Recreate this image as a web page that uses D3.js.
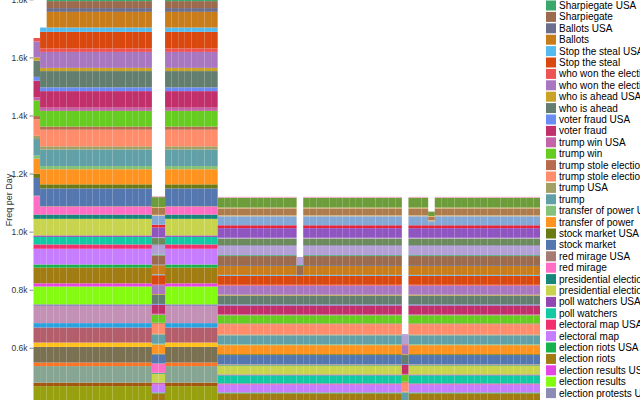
<!DOCTYPE html>
<html><head><meta charset="utf-8">
<script src="https://cdn.jsdelivr.net/npm/d3@7"></script>
<style>html,body{margin:0;padding:0;background:#fff;overflow:hidden}svg{display:block;font-family:"Liberation Sans",Arial,Helvetica,sans-serif}</style>
</head><body><svg id="chart" width="640" height="400"></svg>
<script>
// ---- data ----
const days = [
"2020-10-19","2020-10-20","2020-10-21","2020-10-22","2020-10-23","2020-10-24","2020-10-25","2020-10-26","2020-10-27","2020-10-28","2020-10-29","2020-10-30","2020-10-31",
"2020-11-01","2020-11-02","2020-11-03","2020-11-04","2020-11-05","2020-11-06","2020-11-07","2020-11-08","2020-11-09","2020-11-10","2020-11-11","2020-11-12","2020-11-13","2020-11-14","2020-11-15",
"2020-11-16","2020-11-17","2020-11-18","2020-11-19","2020-11-20","2020-11-21","2020-11-22","2020-11-23","2020-11-24","2020-11-25","2020-11-26","2020-11-27","2020-11-28","2020-11-29","2020-11-30",
"2020-12-01","2020-12-02","2020-12-03","2020-12-04","2020-12-05","2020-12-06","2020-12-07","2020-12-08","2020-12-09","2020-12-10","2020-12-11","2020-12-12","2020-12-13","2020-12-14","2020-12-15",
"2020-12-16","2020-12-17","2020-12-18","2020-12-19","2020-12-20","2020-12-21","2020-12-22","2020-12-23","2020-12-24","2020-12-25","2020-12-26","2020-12-27","2020-12-28","2020-12-29","2020-12-30","2020-12-31",
"2021-01-01","2021-01-02","2021-01-03"];

// legend order (top of the stack first)
const seriesNames = [
"Pennsylvania USA","Pennsylvania","Nevada USA","Nevada","Georgia USA","Georgia","Arizona USA","Arizona","Michigan USA","Michigan","Wisconsin USA","Wisconsin",
"Sharpiegate USA","Sharpiegate","Ballots USA","Ballots","Stop the steal USA","Stop the steal",
"who won the election USA","who won the election","who is ahead USA","who is ahead","voter fraud USA","voter fraud",
"trump win USA","trump win","trump stole election USA","trump stole election","trump USA","trump",
"transfer of power USA","transfer of power","stock market USA","stock market","red mirage USA","red mirage",
"presidential election USA","presidential election","poll watchers USA","poll watchers","electoral map USA","electoral map",
"election riots USA","election riots","election results USA","election results","election protests USA","election protests",
"election night USA","election night","election map USA","election map","election fraud USA","election fraud","election day USA","election day",
"count the votes USA","count the votes","biden win USA","biden win","biden USA","biden","ballot count USA","ballot count","absentee ballot USA","absentee ballot","Biden Harris USA","Biden Harris"];

const seriesColors = [
"#f4a6c9","#6d9c3b","#d8b26a","#ae7c4c","#e6c07a","#84a8d6","#e3243a","#8f55c1","#b9a0c8","#6b8b5d","#8e6fc2","#b3a1d6",
"#3aa86b","#9c6b4e","#6b6e8c","#c97d1a","#55bbee","#d9480f",
"#ee5353","#a877c0","#c9a227","#637e6e","#6b8cf5","#c2306c",
"#c563a8","#66cc22","#b86a4e","#ff8c6b","#a3a065","#62a0a8",
"#84c27a","#ff9320","#6b7a12","#5577b0","#a57c74","#ff6ec4",
"#17877a","#c8d44e","#9346b3","#12c9a4","#f2306e","#c77dff",
"#17b24c","#a17c13","#e545e5","#84fc12","#8c8cb4","#c391b5",
"#27a3e0","#b35e6a","#ffc21a","#7a7052","#ff7424","#86a592","#a3570f","#97a00e",
"#7b4fa0","#e0a85a","#4a9a8a","#d06a8a","#8ab04a","#5a6ad0","#c0c040","#a05a5a","#40a0c0","#d08a40","#9a7ad0","#6a9a5a"];

// values per series (same order as seriesNames) for each kind of day
const tallDayValues = [10,59,10,59,10,59,10,59,10,59,10,59,
10,24,13,54,15,57,12,55,11,56,13,57,11,54,11,57,11,57,11,52,14,61,2,27,15,57,5,26,15,54,11,54,11,61,6,59,15,52,15,54,12,57,12,56,
10,58,12,56,11,57,13,55,11,58,12,59];
const firstDayValues = [0,0,0,0,0,0,0,0,0,0,0,0,
0,0,0,0,0,0,12,55,11,56,13,57,11,54,11,57,11,57,11,52,14,61,2,63,15,57,5,26,15,54,11,54,11,61,6,59,15,52,15,54,12,57,12,56,
10,58,12,56,11,57,13,55,11,58,12,59];
const secondDayValues = [0,0,0,0,0,0,0,0,0,0,0,0,
0,0,0,0,15,57,12,55,11,56,13,57,11,54,11,57,11,57,11,52,14,61,2,27,15,57,5,26,15,54,11,54,11,61,6,59,15,52,15,54,12,57,12,56,
10,58,12,56,11,57,13,55,11,58,12,59];
const shortDayValues = [3,34,3,24,3,31,10,33,3,23,3,31,
3,31,3,31,3,31,3,31,3,31,3,31,3,28,3,35,3,31,3,31,3,31,1,1,3,31,3,28,3,28,3,31,3,31,3,31,3,31,3,31,3,31,3,31,
3,31,3,32,3,31,3,32,3,31,3,33];
const redMirageDayValues = [3,34,3,24,3,31,10,33,3,23,3,31,
3,31,3,31,3,31,3,31,3,31,3,31,3,28,3,35,3,31,3,31,3,31,1,31,3,31,3,0,3,28,3,31,3,31,3,31,3,31,3,31,3,31,3,31,
3,31,3,32,3,31,3,32,3,31,3,33];
const dipDayValues = [0,0,0,0,0,0,0,0,0,0,0,28,
3,31,0,0,3,31,3,31,3,31,3,31,3,28,3,35,3,31,3,31,3,31,1,1,3,31,3,28,3,28,3,31,3,31,3,31,3,31,3,31,3,31,3,31,
3,31,3,32,3,31,3,32,3,31,3,33];
const lowDayValues = [0,0,0,0,0,0,0,0,0,0,3,31,
0,0,0,0,0,0,3,31,3,31,3,31,3,24,3,31,3,31,0,0,0,0,0,0,0,0,0,0,0,0,3,0,3,31,3,31,3,31,3,31,3,31,3,31,
3,31,3,32,3,31,3,32,3,31,3,33];
const notchDayValues = [0,15,3,12,3,14,10,33,3,23,3,31,
3,31,3,31,3,31,3,31,3,31,3,31,3,28,3,35,3,31,3,31,3,31,1,1,3,31,3,28,3,28,3,31,3,31,3,31,3,31,3,31,3,31,3,31,
3,31,3,32,3,31,3,32,3,31,3,33];

// which kind of day each day is
const dayKind = ["first","second",
"tall","tall","tall","tall","tall","tall","tall","tall","tall","tall","tall","tall","tall","tall","tall","tall",
"redMirage","redMirage",
"tall","tall","tall","tall","tall","tall","tall","tall",
"short","short","short","short","short","short","short","short","short","short","short","short",
"dip",
"short","short","short","short","short","short","short","short","short","short","short","short","short","short","short",
"low",
"short","short","short",
"notch",
"short","short","short","short","short","short","short","short","short","short","short","short","short","short","short","short"];

const yTitle = "Freq per Day";

// ---- chart ----
const W = 640, H = 400;
const kinds = {first:firstDayValues, second:secondDayValues, tall:tallDayValues, short:shortDayValues,
  redMirage:redMirageDayValues, dip:dipDayValues, low:lowDayValues, notch:notchDayValues};

const rows = days.map((d, i) => {
  const vals = kinds[dayKind[i]];
  const r = {day: d};
  seriesNames.forEach((s, j) => { r[s] = vals[j]; });
  return r;
});

const keys = seriesNames.slice().reverse(); // bottom of stack first
const stacked = d3.stack().keys(keys)(rows);
const color = d3.scaleOrdinal().domain(seriesNames).range(seriesColors);

const plotLeft = 33.5, plotRight = 540, plotBottom = 522, plotHeight = 644;
const totals = rows.map(r => d3.sum(seriesNames, s => r[s]));

const x = d3.scaleBand().domain(days).range([plotLeft, plotRight]).padding(0);
const y = d3.scaleLinear().domain([0, d3.max(totals)]).range([plotBottom, plotBottom - plotHeight]);

const svg = d3.select("#chart");

// axis (only the ticks that fall inside the visible window)
const tickVals = y.ticks(10).filter(v => y(v) > -6 && y(v) < H - 4);
const axis = svg.append("g").attr("transform", `translate(${plotLeft},0)`)
  .call(d3.axisLeft(y).tickValues(tickVals).tickSize(4).tickPadding(2).tickFormat(y.tickFormat(10, "s")));
axis.select(".domain").remove();
axis.selectAll(".tick line").attr("stroke", "#888");
axis.selectAll(".tick text").attr("fill", "#333").style("font-size", "8.5px").style("font-family", "'Liberation Sans',Arial,sans-serif");

svg.append("text")
  .attr("transform", `translate(8.5,${plotBottom - plotHeight / 2}) rotate(-90)`)
  .attr("text-anchor", "middle").attr("dominant-baseline", "central")
  .style("font-size", "9px").attr("fill", "#333").text(yTitle);

// bars
const layers = svg.append("g").selectAll("g").data(stacked).join("g")
  .attr("fill", d => color(d.key));
layers.selectAll("rect").data(d => d.filter(p => p[1] > p[0])).join("rect")
  .attr("x", d => x(d.data.day))
  .attr("width", x.bandwidth())
  .attr("y", d => y(d[1]))
  .attr("height", d => y(d[0]) - y(d[1]));

// legend (rows inside the visible window)
const rowH = 11.4, legendX = 546;
const firstVisible = seriesNames.indexOf("Sharpiegate USA");
const rowY = i => 5.5 + (i - firstVisible) * rowH;
const legendRows = seriesNames.map((s, i) => ({name: s, y: rowY(i)})).filter(d => d.y > -6 && d.y < H + 2);
const item = svg.append("g").selectAll("g").data(legendRows).join("g")
  .attr("transform", d => `translate(${legendX},${d.y})`);
item.append("rect").attr("x", 0).attr("y", -5).attr("width", 10).attr("height", 10)
  .attr("fill", d => color(d.name));
item.append("text").attr("x", 13).attr("y", 0).attr("dominant-baseline", "central")
  .style("font-size", "10px").attr("fill", "#000").text(d => d.name);
</script>
</body></html>
